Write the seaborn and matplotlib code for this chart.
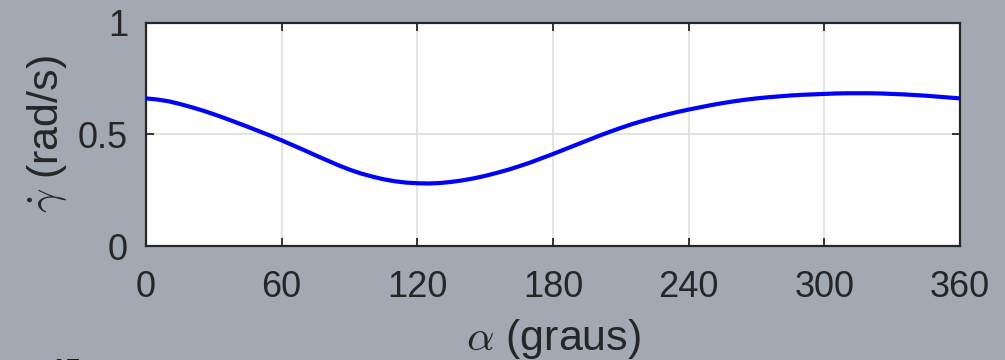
import matplotlib
matplotlib.use("Agg")
import matplotlib.pyplot as plt
import seaborn as sns
import pandas as pd

# Crank angle (degrees) and angular velocity of the output link (rad/s)
alpha_deg = [0, 5, 10, 15, 20, 25, 30, 35, 40, 45, 50, 55, 60, 65, 70, 75,
             80, 85, 90, 95, 100, 105, 110, 115, 120, 125, 130, 135, 140, 145,
             150, 155, 160, 165, 170, 175, 180, 185, 190, 195, 200, 205, 210,
             215, 220, 225, 230, 235, 240, 245, 250, 255, 260, 265, 270, 275,
             280, 285, 290, 295, 300, 305, 310, 315, 320, 325, 330, 335, 340,
             345, 350, 355, 360]
gamma_dot = [0.661, 0.656, 0.648, 0.636, 0.622, 0.607, 0.590, 0.572, 0.553,
             0.534, 0.514, 0.494, 0.473, 0.451, 0.429, 0.406, 0.384, 0.362,
             0.342, 0.325, 0.311, 0.299, 0.290, 0.284, 0.281, 0.280, 0.282,
             0.287, 0.294, 0.303, 0.314, 0.327, 0.341, 0.357, 0.374, 0.393,
             0.412, 0.432, 0.452, 0.472, 0.492, 0.511, 0.529, 0.546, 0.561,
             0.575, 0.588, 0.600, 0.611, 0.621, 0.631, 0.640, 0.648, 0.655,
             0.661, 0.666, 0.670, 0.674, 0.677, 0.679, 0.681, 0.683, 0.684,
             0.684, 0.684, 0.683, 0.681, 0.679, 0.676, 0.673, 0.669, 0.665,
             0.661]
x_ticks = [0, 60, 120, 180, 240, 300, 360]
y_ticks = [0, 0.5, 1]
y_tick_labels = ["0", "0.5", "1"]

df = pd.DataFrame({"alpha": alpha_deg, "gamma_dot": gamma_dot})

sns.set_theme(style="whitegrid")
plt.rcParams["font.family"] = ["Liberation Sans", "DejaVu Sans"]
plt.rcParams["mathtext.fontset"] = "cm"

bg = "#a3a9b3"
ink = "#262626"

fig = plt.figure(figsize=(10.05, 3.6), dpi=100, facecolor=bg)
ax = fig.add_axes([146 / 1005, (360 - 246) / 360, (960 - 146) / 1005, (246 - 22.7) / 360])
ax.set_facecolor("white")

sns.lineplot(data=df, x="alpha", y="gamma_dot", ax=ax, color="#0000ff",
             linewidth=3.0, zorder=3)

ax.set_xlim(0, 360)
ax.set_ylim(0, 1)
ax.set_xticks(x_ticks)
ax.set_yticks(y_ticks)
ax.set_yticklabels(y_tick_labels)

ax.grid(True, color="#dcdcdc", linewidth=1.1)
for side in ["left", "right", "top", "bottom"]:
    ax.spines[side].set_visible(True)
    ax.spines[side].set_color(ink)
    ax.spines[side].set_linewidth(1.6)

ax.tick_params(axis="both", which="both", direction="in", length=6, width=1.3,
               color=ink, labelcolor=ink, labelsize=26,
               top=True, right=True, bottom=True, left=True)
ax.tick_params(axis="x", pad=17)
ax.tick_params(axis="y", pad=13)

ax.set_xlabel(r"$\alpha$ (graus)", fontsize=31, color=ink, labelpad=9)
ax.set_ylabel(r"$\dot{\gamma}$ (rad/s)", fontsize=31, color=ink, labelpad=6)

# start of the next panel's label, cut by the lower edge
fig.text(50 / 1005, 2 / 360, "15", fontsize=20, fontweight="bold", color="#1a1a1a",
         va="top", ha="left")

fig.savefig("out.png", dpi=100, facecolor=bg)
